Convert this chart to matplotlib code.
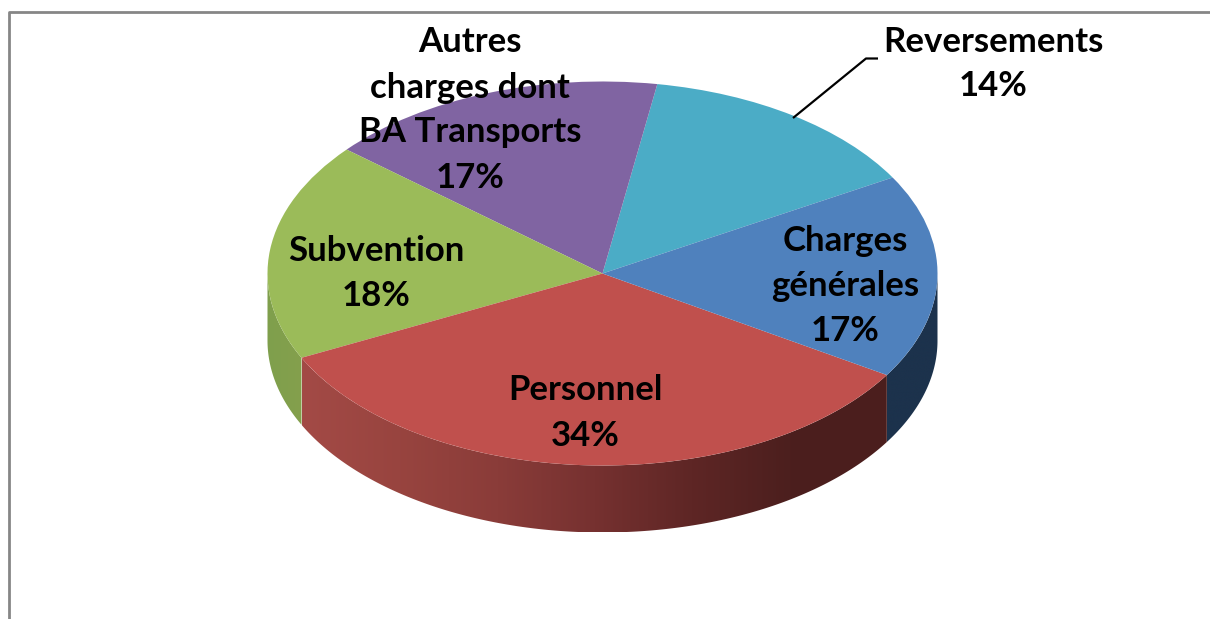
import numpy as np
import matplotlib
matplotlib.use("Agg")
import matplotlib.pyplot as plt
from matplotlib.colors import LinearSegmentedColormap
from matplotlib.patches import Polygon

labels = ["Reversements\n14%", "Autres\ncharges dont\nBA Transports\n17%", "Subvention\n18%", "Personnel\n34%", "Charges\ngénérales\n17%"]
values = [14.05, 16.45, 18.4, 33.9, 17.2]
top_colors = ["#4bacc6", "#8064a2", "#9bbb59", "#c0504d", "#4f81bd"]
wall_stops = [
    ["#2f6f80", "#2f6f80"],
    ["#524068", "#524068"],
    ["#7f9f4d", "#84a04c"],
    ["#a34a46", "#98443f", "#8a3c39", "#763130", "#5e2625", "#4c1f1e", "#4b1e1d"],
    ["#1c324c", "#1c324c"],
]
label_px = [(993, 64), (470, 110), (376, 273.5), (585, 413), (845, 286)]

W, H = 1210, 619
CX, CY, RX, RY, DEPTH = 602.5, 273.5, 335, 192, 67
START = 30

fig = plt.figure(figsize=(W / 100, H / 100), dpi=100, facecolor="white")
ax = fig.add_axes([0, 0, 1, 1])

ax.pie(values, colors=top_colors, startangle=START, counterclock=True, radius=1,
       normalize=True, wedgeprops={"linewidth": 0, "zorder": 5})
ax.set_aspect("auto")
xlim = (-CX / RX, (W - CX) / RX)
ylim = ((CY - H) / RY, CY / RY)

d = DEPTH / RY
fracs = np.array(values) / sum(values)
edges = START + np.cumsum(np.r_[0, fracs]) * 360
for i in range(len(values)):
    a0, a1 = edges[i], edges[i + 1]
    for lo in (a0, a0 - 360, a0 + 360):
        hi = lo + (a1 - a0)
        s, e = max(lo, 180), min(hi, 360)
        if e <= s:
            continue
        th = np.radians(np.linspace(s, e, 200))
        x, y = np.cos(th), np.sin(th)
        poly = np.r_[np.c_[x, y], np.c_[x[::-1], y[::-1] - d]]
        patch = Polygon(poly, closed=True, facecolor="none", edgecolor="none", transform=ax.transData)
        ax.add_patch(patch)
        cmap = LinearSegmentedColormap.from_list("wall", wall_stops[i])
        im = ax.imshow(np.linspace(0, 1, 256)[None, :], cmap=cmap, aspect="auto",
                       extent=(x.min(), x.max(), (y - d).min(), y.max()), zorder=2,
                       interpolation="bilinear")
        im.set_clip_path(patch)

ax.set_xlim(*xlim)
ax.set_ylim(*ylim)
ax.set_aspect("auto")
ax.axis("off")

for text, (px, py) in zip(labels, label_px):
    ax.text((px - CX) / RX, (CY - py) / RY, text, ha="center", va="center",
            fontsize=25, fontweight="bold", family="Lato", color="black",
            linespacing=1.5, zorder=10)

def to_data(px, py):
    return (px - CX) / RX, (CY - py) / RY

lead = [to_data(793, 118), to_data(866, 58.5), to_data(878, 58.5)]
ax.plot(*zip(*lead), color="black", lw=1.6, zorder=9, solid_capstyle="butt")

frame = [to_data(9, H), to_data(9, 12), to_data(W, 12)]
ax.plot(*zip(*frame), color="#868686", lw=2, zorder=1, clip_on=False)

fig.savefig("out.png", dpi=100, facecolor="white")
